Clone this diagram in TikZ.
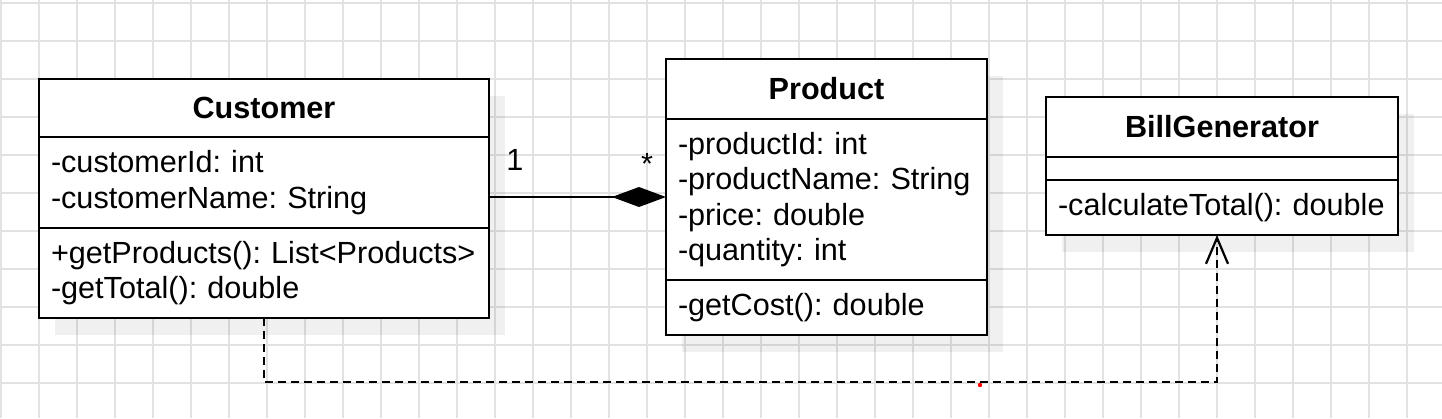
\documentclass[tikz,border=0pt]{standalone}
\usepackage{fontspec}
\setmainfont{Liberation Sans}
\usetikzlibrary{arrows.meta,positioning,fit,backgrounds}
\definecolor{gridgray}{HTML}{E2E2E2}

\begin{document}
\frenchspacing\hyphenpenalty=10000
\begin{tikzpicture}[x=1pt,y=-1pt,font=\fontsize{30.6}{35.4}\selectfont,outer sep=0pt,
  hd/.style={draw,line width=2.2pt,fill=white,anchor=north west,inner sep=0pt,font=\fontsize{30.6}{35.4}\selectfont\bfseries},
  cp/.style={draw,line width=2.2pt,fill=white,inner xsep=12pt,inner ysep=0pt,align=left},
  dep/.style={line width=2.2pt,dash pattern=on 8pt off 5pt}]
\useasboundingbox (0,0) rectangle (1442,418);
% ---- Customer ----
\node[hd,minimum width=450pt,minimum height=58pt] (custT) at (39,79) {Customer};
\node[cp,below=0pt of custT,text width=426pt,minimum height=91pt] (custA) {-customerId: int\\-customerName: String};
\node[cp,below=0pt of custA,text width=426pt,minimum height=90pt] (custM) {+getProducts(): List<Products>\\-getTotal(): double};
\node[fit=(custT)(custM),inner sep=0pt] (cust) {};
% ---- Product ----
\node[hd,minimum width=321pt,minimum height=60pt] (prodT) at (666,59) {Product};
\node[cp,below=0pt of prodT,text width=297pt,minimum height=161pt] (prodA) {-productId: int\\-productName: String\\-price: double\\-quantity: int};
\node[cp,below=0pt of prodA,text width=297pt,minimum height=55pt] (prodM) {-getCost(): double};
\node[fit=(prodT)(prodM),inner sep=0pt] (prod) {};
% ---- BillGenerator ----
\node[hd,minimum width=352pt,minimum height=60pt] (billT) at (1046,97) {BillGenerator};
\node[draw,line width=2.2pt,fill=white,inner sep=0pt,below=0pt of billT,minimum width=352pt,minimum height=23pt] (billA) {};
\node[cp,below=0pt of billA,text width=328pt,minimum height=55pt] (billM) {-calculateTotal(): double};
\node[fit=(billT)(billM),inner sep=0pt] (bill) {};
% ---- connectors ----
\draw[line width=2.2pt,-{Diamond[length=54pt,width=20pt]}] (cust.east |- prod.west) -- (prod.west);
\node[anchor=base] (m1) at (515,170) {1};
\node[anchor=base] (m2) at (647,174) {*};
\draw[dep,-{Straight Barb[length=26pt,width=22pt,line width=2.2pt]}] (custM.south) -- ++(0,64) -| ([xshift=-5pt]billM.south);
\coordinate (wp) at (980,385);
\fill[red] (wp) circle (2.2pt);
% ---- grid and shadows ----
\begin{scope}[on background layer]
\fill[white] (0,0) rectangle (1442,418);
\foreach \i in {0,...,37} \draw[gridgray,line width=1.5pt] (1+38*\i,0) -- (1+38*\i,418);
\foreach \j in {0,...,10} \draw[gridgray,line width=1.5pt] (0,3+38*\j) -- (1442,3+38*\j);
\foreach \c in {cust,prod,bill}
  \fill[black,opacity=0.06] ([shift={(16,17)}]\c.north west) rectangle ([shift={(16,17)}]\c.south east);
\end{scope}
\end{tikzpicture}
\end{document}
